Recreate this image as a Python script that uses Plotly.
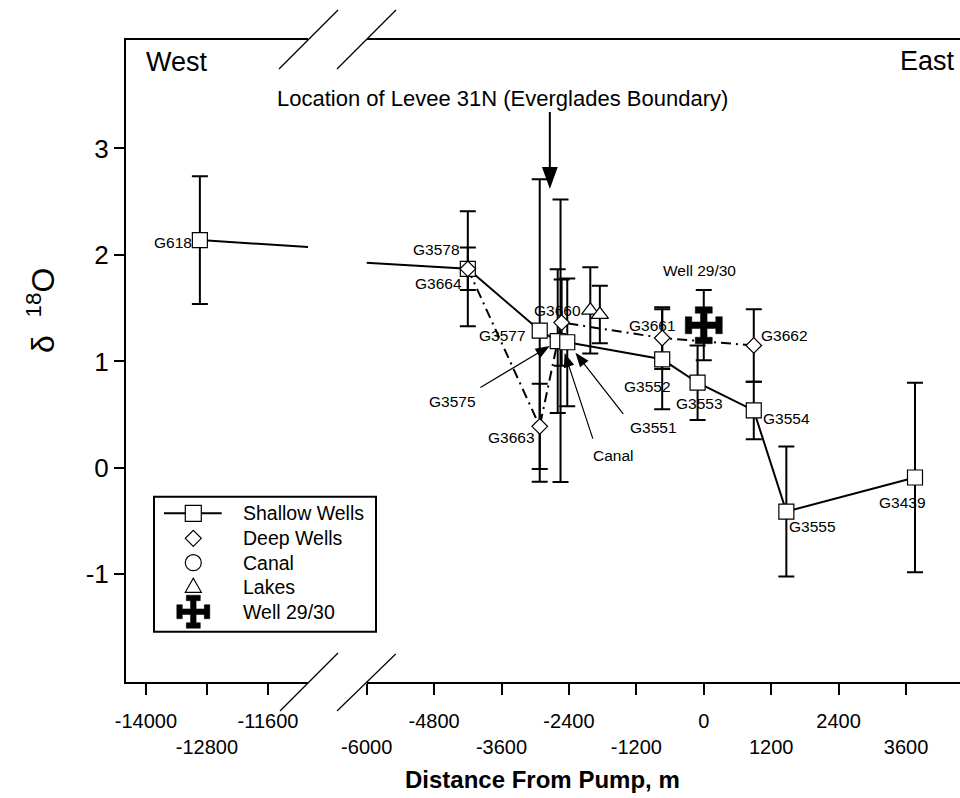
import math
import plotly.graph_objects as go

# ---------------- data ----------------
SH_NAMES = ["G618", "G3578", "G3577", "G3575", "G3551", "G3552", "G3553", "G3554", "G3555", "G3439"]
SH_X = [-12940, -4200, -2920, -2600, -2430, -740, -110, 890, 1470, 3760]
SH_Y = [2.14, 1.87, 1.29, 1.19, 1.18, 1.02, 0.80, 0.54, -0.41, -0.09]
SH_ERR = [0.60, 0.54, 1.42, 0.675, 0.60, 0.47, 0.35, 0.27, 0.61, 0.89]

DP_NAMES = ["G3664", "G3663", "G3660", "G3661", "G3662"]
DP_X = [-4200, -2920, -2530, -740, 890]
DP_Y = [1.87, 0.39, 1.365, 1.22, 1.15]
DP_ERR = [0.20, 0.40, 0.405, 0.29, 0.34]

CANAL_X = [-2550]
CANAL_Y = [1.195]
CANAL_ERR = [1.327]

LAKE_X = [-2020, -1850]
LAKE_Y = [1.48, 1.44]
LAKE_ERR = [0.405, 0.27]

WELL_X = [0]
WELL_Y = [1.34]
WELL_ERR = [0.33]

LEVEE_X = -2740

X_LEFT_TICKS = [-14000, -12800, -11600]
X_RIGHT_TICKS = [-6000, -4800, -3600, -2400, -1200, 0, 1200, 2400, 3600]
Y_TICKS = [-1, 0, 1, 2, 3]

LEGEND_LABELS = ["Shallow Wells", "Deep Wells", "Canal", "Lakes", "Well 29/30"]

# ---------------- layout geometry ----------------
W_FIG, H_FIG = 960, 798
ML, MR, MT, MB = 126, 0, 40, 116
PW = W_FIG - ML - MR
PH = H_FIG - MT - MB
FONT = "Arial, Liberation Sans, sans-serif"


def px(x):
    return (x - ML) / PW


def py(y):
    return (MT + PH - y) / PH


LEFT_DOMAIN = [0, px(308)]
RIGHT_DOMAIN = [px(366.7), 1]
X_LEFT_RANGE = [-14393, -10813]
X_RIGHT_RANGE = [-6000, 4561]
Y_RANGE = [-2.011, 4.019]


def tt(vals, first_upper=True):
    out = []
    for i, v in enumerate(vals):
        s = str(v)
        upper = (i % 2 == 0) == first_upper
        out.append(s if upper else "<br>" + s)
    return out


fig = go.Figure()

BLACK = "black"
ERR = dict(type="data", thickness=2, width=8, color=BLACK)


def err(arr):
    d = dict(ERR)
    d["array"] = arr
    return d


# ---- left segment (only G618 and the line leaving it) ----
fig.add_trace(go.Scatter(x=SH_X, y=SH_Y, mode="lines", line=dict(color=BLACK, width=2),
                         xaxis="x", yaxis="y", hoverinfo="skip", showlegend=False))
left_idx = [i for i, v in enumerate(SH_X) if v <= X_LEFT_RANGE[1]]
fig.add_trace(go.Scatter(x=[SH_X[i] for i in left_idx], y=[SH_Y[i] for i in left_idx],
                         mode="markers", error_y=err([SH_ERR[i] for i in left_idx]),
                         marker=dict(symbol="square", size=15, color="white",
                                     line=dict(color=BLACK, width=1.2)),
                         xaxis="x", yaxis="y", showlegend=False))

# ---- right segment ----
right_idx = [i for i, v in enumerate(SH_X) if v >= X_RIGHT_RANGE[0]]
INVIS = dict(size=1, color="rgba(0,0,0,0)")
# error bars first
for xs, ys, es in [(DP_X, DP_Y, DP_ERR), (CANAL_X, CANAL_Y, CANAL_ERR), (LAKE_X, LAKE_Y, LAKE_ERR),
                   ([SH_X[i] for i in right_idx], [SH_Y[i] for i in right_idx], [SH_ERR[i] for i in right_idx]),
                   (WELL_X, WELL_Y, WELL_ERR)]:
    fig.add_trace(go.Scatter(x=xs, y=ys, mode="markers", marker=INVIS, error_y=err(es),
                             xaxis="x2", yaxis="y", hoverinfo="skip", showlegend=False))

# lines
fig.add_trace(go.Scatter(x=DP_X, y=DP_Y, mode="lines",
                         line=dict(color=BLACK, width=2, dash="10px,5px,2px,5px"),
                         xaxis="x2", yaxis="y", showlegend=False))
fig.add_trace(go.Scatter(x=SH_X, y=SH_Y, mode="lines", line=dict(color=BLACK, width=2),
                         xaxis="x2", yaxis="y", showlegend=False))
# markers
fig.add_trace(go.Scatter(x=CANAL_X, y=CANAL_Y, mode="markers",
                         marker=dict(symbol="circle", size=15, color="white", line=dict(color=BLACK, width=1.2)),
                         xaxis="x2", yaxis="y", showlegend=False))
fig.add_trace(go.Scatter(x=LAKE_X, y=LAKE_Y, mode="markers",
                         marker=dict(symbol="triangle-up", size=15, color="white", line=dict(color=BLACK, width=1.2)),
                         xaxis="x2", yaxis="y", showlegend=False))
fig.add_trace(go.Scatter(x=[SH_X[i] for i in right_idx], y=[SH_Y[i] for i in right_idx], mode="markers",
                         marker=dict(symbol="square", size=15, color="white", line=dict(color=BLACK, width=1.2)),
                         xaxis="x2", yaxis="y", showlegend=False))
fig.add_trace(go.Scatter(x=DP_X, y=DP_Y, mode="markers",
                         marker=dict(symbol="diamond", size=12, color="white", line=dict(color=BLACK, width=1.2)),
                         xaxis="x2", yaxis="y", showlegend=False))


def cross_path(a, t, c, k):
    b = a - k
    pts = [(-c, a), (c, a), (c, b), (t, b), (t, t), (b, t), (b, c), (a, c), (a, -c), (b, -c), (b, -t),
           (t, -t), (t, -b), (c, -b), (c, -a), (-c, -a), (-c, -b), (-t, -b), (-t, -t), (-b, -t), (-b, -c),
           (-a, -c), (-a, c), (-b, c), (-b, t), (-t, t), (-t, b), (-c, b)]
    return "M" + "L".join(f"{x:.2f},{y:.2f}" for x, y in pts) + "Z"


def arrow_path(tail_dx, tail_dy_down, standoff, head_len, head_half):
    """Pixel path (y up) of an arrow whose head sits `standoff` px from the anchor."""
    tx, ty = tail_dx, -tail_dy_down
    L = math.hypot(tx, ty)
    ux, uy = tx / L, ty / L
    tipx, tipy = ux * standoff, uy * standoff
    bx, by = tipx + ux * head_len, tipy + uy * head_len
    nx, ny = -uy, ux
    return (f"M{tx:.2f},{ty:.2f}L{bx:.2f},{by:.2f}"
            f"M{tipx:.2f},{tipy:.2f}L{bx + nx * head_half:.2f},{by + ny * head_half:.2f}"
            f"L{bx - nx * head_half:.2f},{by - ny * head_half:.2f}Z")


shapes = []
# Well 29/30 symbol anchored at its data point
shapes.append(dict(type="path", xref="x2", yref="y", xsizemode="pixel", ysizemode="pixel",
                   xanchor=WELL_X[0], yanchor=WELL_Y[0], path=cross_path(18.5, 3.3, 8.5, 6.5),
                   fillcolor=BLACK, line=dict(color=BLACK, width=0.5)))

# pointer arrows to G3575, G3551 and the canal
for x, y, ax, ay, so in [(SH_X[3], SH_Y[3], -77.3, 46.3, 11),
                         (SH_X[4], SH_Y[4], 56, 71.6, 15),
                         (CANAL_X[0], CANAL_Y[0], 32.3, 98, 14.6)]:
    shapes.append(dict(type="path", xref="x2", yref="y", xsizemode="pixel", ysizemode="pixel",
                       xanchor=x, yanchor=y, path=arrow_path(ax, ay, so, 12, 4.5),
                       fillcolor=BLACK, line=dict(color=BLACK, width=1.2)))

# levee arrow
shapes.append(dict(type="path", xref="x2", yref="paper", xsizemode="pixel", ysizemode="pixel",
                   xanchor=LEVEE_X, yanchor=py(186), path=arrow_path(0, -74, 0, 18, 6.5),
                   fillcolor=BLACK, line=dict(color=BLACK, width=2)))

# axis-break slashes
for (x0, y0, x1, y1) in [(280, 711, 338, 653), (337, 711, 395.7, 654),
                         (279, 69, 338, 10), (337, 69, 396, 10)]:
    shapes.append(dict(type="line", xref="paper", yref="paper", x0=px(x0), y0=py(y0), x1=px(x1), y1=py(y1),
                       line=dict(color=BLACK, width=1.2)))

# legend box and glyphs
shapes.append(dict(type="rect", xref="paper", yref="paper", x0=px(154), y0=py(631.7), x1=px(376), y1=py(496.7),
                   line=dict(color=BLACK, width=2), fillcolor="white", layer="above"))
LEG_SX = 193.3
LEG_ROWS = [513.3, 538.3, 562.7, 587.3, 611.7]
shapes.append(dict(type="line", xref="paper", yref="paper", x0=px(164), x1=px(221.7), y0=py(LEG_ROWS[0]),
                   y1=py(LEG_ROWS[0]), line=dict(color=BLACK, width=2)))


def glyph(kind, row):
    base = dict(xref="paper", yref="paper", xsizemode="pixel", ysizemode="pixel",
                xanchor=px(LEG_SX), yanchor=py(LEG_ROWS[row]), fillcolor="white",
                line=dict(color=BLACK, width=1.2))
    if kind == "square":
        base.update(type="rect", x0=-8, x1=8, y0=-8, y1=8)
    elif kind == "circle":
        base.update(type="circle", x0=-8, x1=8, y0=-8, y1=8)
    elif kind == "diamond":
        base.update(type="path", path="M-8,0L0,-8L8,0L0,8Z")
    elif kind == "triangle":
        base.update(type="path", path="M-8,-5L8,-5L0,9Z")
    elif kind == "cross":
        base.update(type="path", path=cross_path(16.5, 2.8, 7, 5.5), fillcolor=BLACK,
                    line=dict(color=BLACK, width=0.5))
    return base


for i, k in enumerate(["square", "diamond", "circle", "triangle", "cross"]):
    shapes.append(glyph(k, i))

annotations = []
LBL = dict(size=15.5, family=FONT, color=BLACK)
# point labels: (name, xref, x, y, xanchor, xshift, yshift)
label_specs = [
    (SH_NAMES[0], "x", SH_X[0], SH_Y[0], "right", -6, -2),
    (SH_NAMES[1], "x2", SH_X[1], SH_Y[1], "right", -6, 19),
    (DP_NAMES[0], "x2", DP_X[0], DP_Y[0], "right", -4, -15),
    (SH_NAMES[2], "x2", SH_X[2], SH_Y[2], "right", -12, -5),
    (DP_NAMES[2], "x2", DP_X[2], DP_Y[2], "center", -4.5, 12),
    (DP_NAMES[3], "x2", DP_X[3], DP_Y[3], "center", -9.7, 12.3),
    (DP_NAMES[4], "x2", DP_X[4], DP_Y[4], "left", 5, 10),
    (SH_NAMES[5], "x2", SH_X[5], SH_Y[5], "center", -14.7, -26.7),
    (SH_NAMES[6], "x2", SH_X[6], SH_Y[6], "center", 2.2, -21),
    (SH_NAMES[7], "x2", SH_X[7], SH_Y[7], "left", 7.5, -7.7),
    (SH_NAMES[8], "x2", SH_X[8], SH_Y[8], "left", 0.6, -15),
    (SH_NAMES[9], "x2", SH_X[9], SH_Y[9], "center", -12.3, -24.6),
    (DP_NAMES[1], "x2", DP_X[1], DP_Y[1], "right", -3, -11.6),
    (LEGEND_LABELS[4], "x2", WELL_X[0], WELL_Y[0], "center", -3.8, 55),
    (SH_NAMES[3], "x2", SH_X[3], SH_Y[3], "center", -105.3, -60),
    (SH_NAMES[4], "x2", SH_X[4], SH_Y[4], "center", 86.3, -85),
    (LEGEND_LABELS[2], "x2", CANAL_X[0], CANAL_Y[0], "center", 52.5, -115.3),
]
for name, xr, x, y, xa, xs, ys in label_specs:
    annotations.append(dict(text=name, xref=xr, yref="y", x=x, y=y, xanchor=xa, yanchor="middle",
                            xshift=xs, yshift=ys, showarrow=False, font=LBL))

annotations.append(dict(text="Location of Levee 31N (Everglades Boundary)", xref="paper", yref="paper",
                        x=px(502.5), y=py(99), xanchor="center", yanchor="middle", showarrow=False,
                        font=dict(size=22, family=FONT, color=BLACK)))
annotations.append(dict(text="West", xref="paper", yref="paper", x=px(144), y=py(62), xanchor="left",
                        yanchor="middle", showarrow=False, font=dict(size=27, family=FONT, color=BLACK)))
annotations.append(dict(text="East", xref="paper", yref="paper", x=px(957), y=py(61), xanchor="right",
                        yanchor="middle", showarrow=False, font=dict(size=27, family=FONT, color=BLACK)))
# axis titles
annotations.append(dict(text="<b>Distance From Pump, m</b>", xref="paper", yref="paper", x=px(542), y=py(780),
                        xanchor="center", yanchor="middle", showarrow=False,
                        font=dict(size=24, family=FONT, color=BLACK)))
annotations.append(dict(text="δ\u00a0\u00a0<sup>18</sup>O", xref="paper", yref="paper", x=px(41), y=py(311),
                        xanchor="center", yanchor="middle", showarrow=False, textangle=-90,
                        font=dict(size=32, family=FONT, color=BLACK)))
# legend texts
for i, lab in enumerate(LEGEND_LABELS):
    annotations.append(dict(text=lab, xref="paper", yref="paper", x=px(240.5), y=py(LEG_ROWS[i]),
                            xanchor="left", yanchor="middle", showarrow=False,
                            font=dict(size=19.5, family=FONT, color=BLACK)))

AX = dict(showgrid=False, zeroline=False, showline=True, linecolor=BLACK, linewidth=2,
          ticks="outside", tickcolor=BLACK, tickwidth=2, ticklen=11, tickangle=0,
          tickfont=dict(size=20, family=FONT, color=BLACK))

fig.update_layout(
    width=W_FIG, height=H_FIG,
    margin=dict(l=ML, r=MR, t=MT, b=MB, pad=0),
    paper_bgcolor="white", plot_bgcolor="white",
    showlegend=False,
    xaxis=dict(AX, domain=LEFT_DOMAIN, range=X_LEFT_RANGE, tickmode="array", tickvals=X_LEFT_TICKS,
               ticktext=tt(X_LEFT_TICKS, True), anchor="y", mirror=True, ticklabelstandoff=9),
    xaxis2=dict(AX, domain=RIGHT_DOMAIN, range=X_RIGHT_RANGE, tickmode="array", tickvals=X_RIGHT_TICKS,
                ticktext=tt(X_RIGHT_TICKS, False), anchor="y", mirror=True, ticklabelstandoff=9),
    yaxis=dict(AX, range=Y_RANGE, tickmode="array", tickvals=Y_TICKS, ticktext=[str(v) for v in Y_TICKS],
               ticklen=10, tickfont=dict(size=26, family=FONT, color=BLACK), anchor="x"),
    shapes=shapes,
    annotations=annotations,
)

fig.write_html("out.html", config={"displayModeBar": False},
               post_script="document.body.style.margin='0px';")
